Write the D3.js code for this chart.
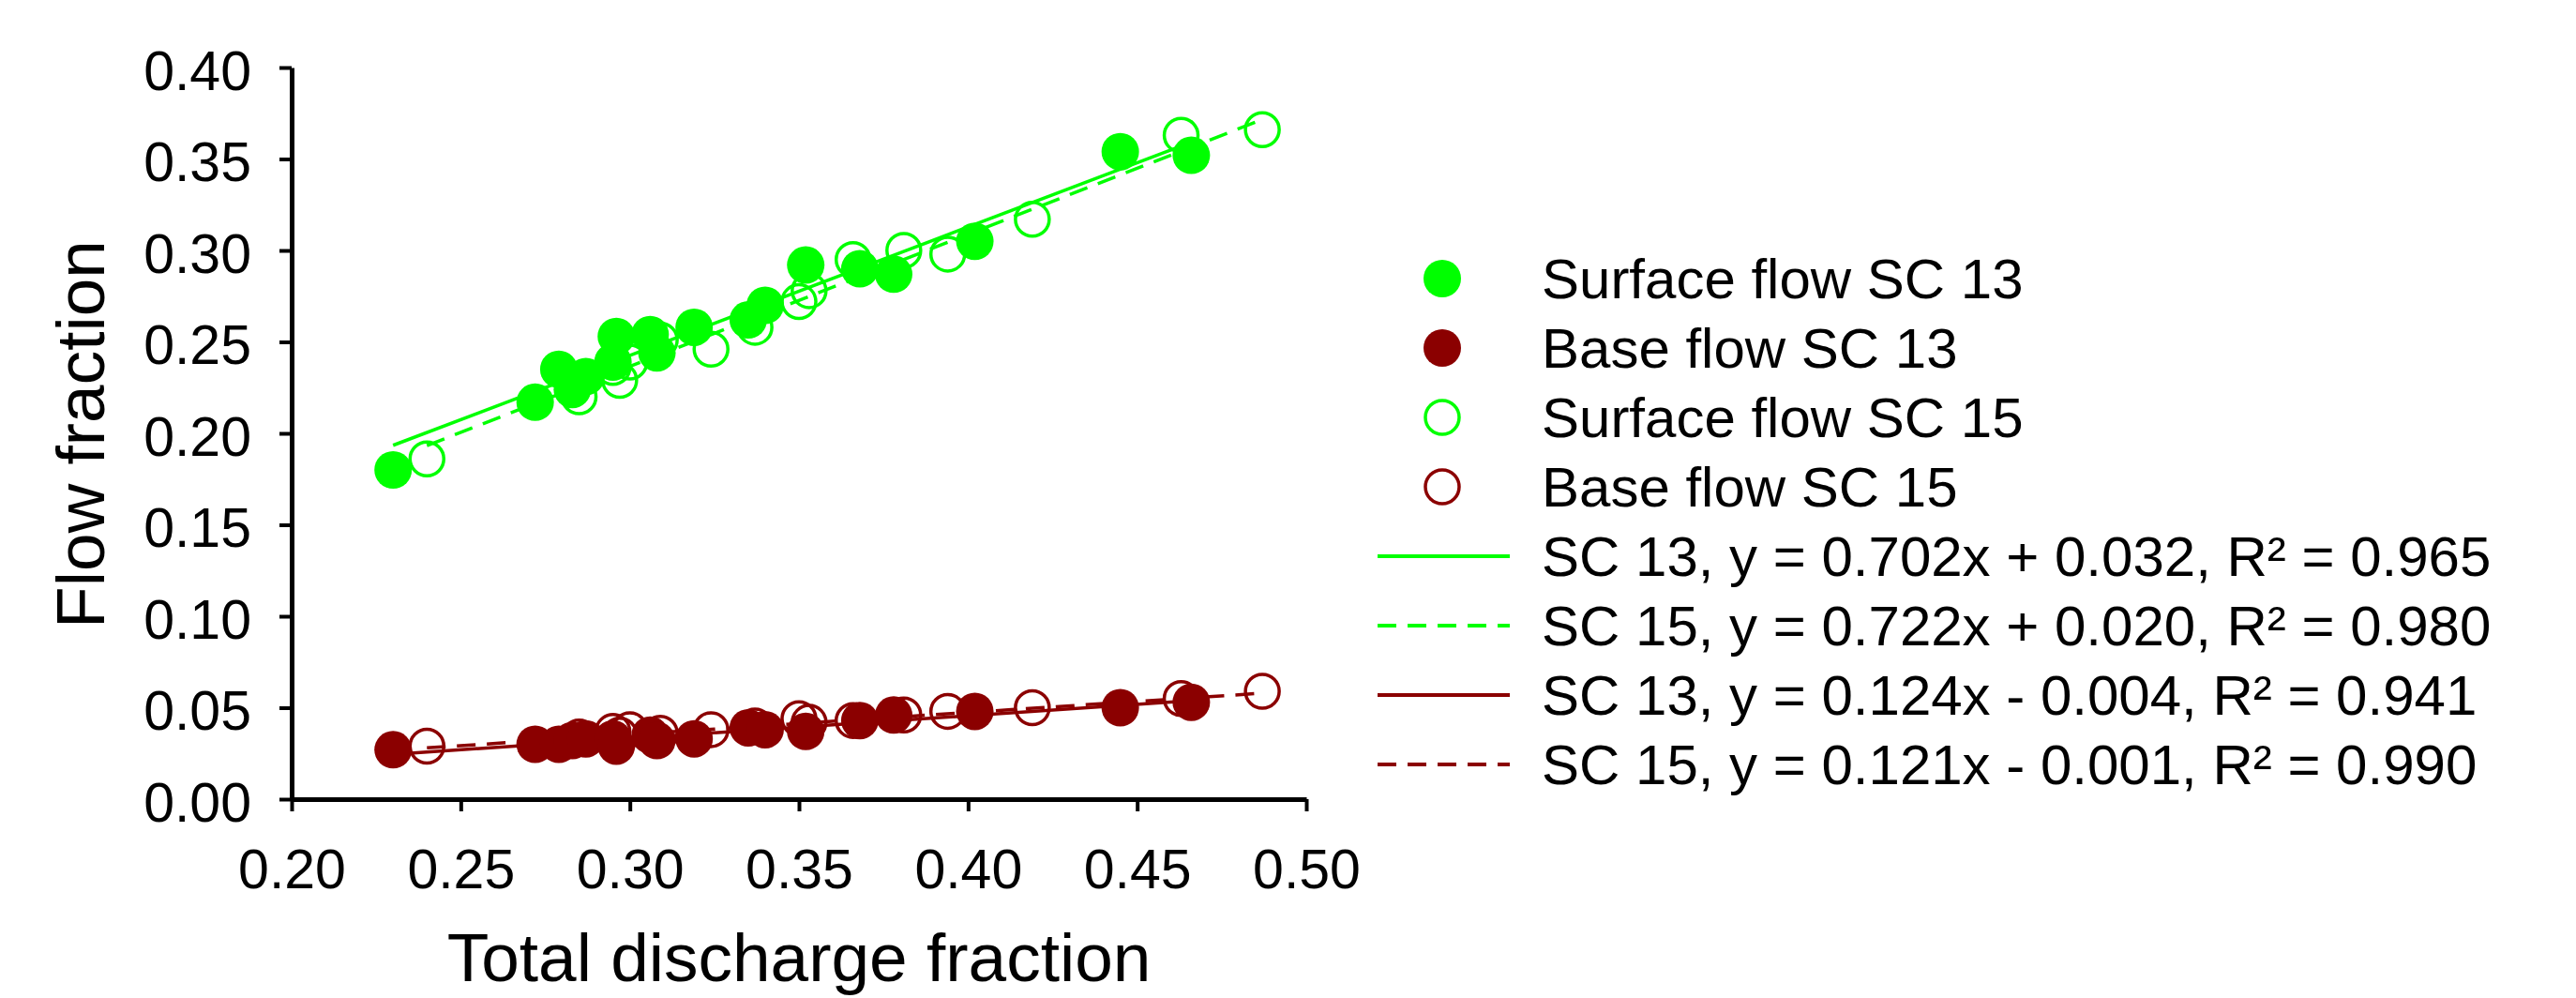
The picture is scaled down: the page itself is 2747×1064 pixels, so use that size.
<!DOCTYPE html>
<html>
<head>
<meta charset="utf-8">
<script src="https://cdn.jsdelivr.net/npm/d3@7/dist/d3.min.js"></script>
<style>
  html, body { margin: 0; padding: 0; background: #fff; }
  svg { display: block; font-family: "Liberation Sans", Arial, sans-serif; }
</style>
</head>
<body>
<svg id="chart" width="2747" height="1064"></svg>
<script>
// ---- Data ----
const surfaceSC13X = [0.230, 0.272, 0.279, 0.283, 0.287, 0.295, 0.296, 0.306, 0.308, 0.319, 0.335, 0.340, 0.352, 0.368, 0.378, 0.402, 0.445, 0.466];
const surfaceSC13Y = [0.180, 0.217, 0.235, 0.224, 0.231, 0.239, 0.253, 0.254, 0.244, 0.258, 0.262, 0.270, 0.292, 0.290, 0.287, 0.305, 0.354, 0.352];
const baseSC13Y    = [0.027, 0.030, 0.030, 0.032, 0.033, 0.033, 0.029, 0.035, 0.032, 0.033, 0.039, 0.038, 0.037, 0.043, 0.046, 0.048, 0.050, 0.053];

const surfaceSC15X = [0.240, 0.285, 0.295, 0.297, 0.300, 0.309, 0.324, 0.337, 0.350, 0.353, 0.366, 0.381, 0.394, 0.419, 0.463, 0.487];
const surfaceSC15Y = [0.186, 0.220, 0.236, 0.229, 0.239, 0.251, 0.246, 0.258, 0.272, 0.278, 0.295, 0.300, 0.298, 0.317, 0.363, 0.366];
const baseSC15Y    = [0.029, 0.034, 0.037, 0.035, 0.038, 0.036, 0.038, 0.040, 0.044, 0.042, 0.043, 0.046, 0.048, 0.050, 0.055, 0.059];

const fitSlopes     = [0.702, 0.722, 0.124, 0.121];
const fitIntercepts = [0.032, 0.020, -0.004, -0.001];

const legendLabels = [
  "Surface flow SC 13",
  "Base flow SC 13",
  "Surface flow SC 15",
  "Base flow SC 15",
  "SC 13, y = 0.702x + 0.032, R² = 0.965",
  "SC 15, y = 0.722x + 0.020, R² = 0.980",
  "SC 13, y = 0.124x - 0.004, R² = 0.941",
  "SC 15, y = 0.121x - 0.001, R² = 0.990"
];

const xTicks = [0.20, 0.25, 0.30, 0.35, 0.40, 0.45, 0.50];
const yTicks = [0.00, 0.05, 0.10, 0.15, 0.20, 0.25, 0.30, 0.35, 0.40];
const xTitle = "Total discharge fraction";
const yTitle = "Flow fraction";

// ---- Styles ----
const GREEN = "#00ff00";
const RED = "#8b0000";
const DASH = "20,12";

const svg = d3.select("#chart");
const x = d3.scaleLinear().domain([0.20, 0.50]).range([311, 1393]);
const y = d3.scaleLinear().domain([0.00, 0.40]).range([852, 72]);

// ---- Axes ----
const fmt = d3.format(".2f");
const yAxis = svg.append("g").attr("transform", `translate(${x(0.20)},0)`)
  .call(d3.axisLeft(y).tickValues(yTicks).tickFormat(fmt).tickSize(13).tickSizeOuter(0).tickPadding(30));
const xAxis = svg.append("g").attr("transform", `translate(0,${y(0)})`)
  .call(d3.axisBottom(x).tickValues(xTicks).tickFormat(fmt).tickSize(13).tickSizeOuter(0).tickPadding(40));

[xAxis, yAxis].forEach(g => {
  g.select(".domain").attr("stroke", "#000").attr("stroke-width", 5);
  g.selectAll(".tick line").attr("stroke", "#000").attr("stroke-width", 4);
  g.selectAll(".tick text").attr("fill", "#000").attr("font-size", 59)
    .attr("font-family", "'Liberation Sans', Arial, sans-serif");
});
yAxis.selectAll(".tick text").attr("dy", "0.39em");

svg.append("text")
  .attr("x", (x(0.20) + x(0.50)) / 2).attr("y", 1046)
  .attr("text-anchor", "middle").attr("font-size", 73).attr("fill", "#000")
  .text(xTitle);
svg.append("text")
  .attr("transform", `translate(111,${(y(0) + y(0.40)) / 2 + 1}) rotate(-90)`)
  .attr("text-anchor", "middle").attr("font-size", 73).attr("fill", "#000")
  .text(yTitle);

// ---- Regression lines ----
const fits = [
  { xs: surfaceSC13X, color: GREEN, dash: null },
  { xs: surfaceSC15X, color: GREEN, dash: DASH },
  { xs: surfaceSC13X, color: RED, dash: null },
  { xs: surfaceSC15X, color: RED, dash: DASH }
];
const line = d3.line().x(d => x(d[0])).y(d => y(d[1]));
fits.forEach((f, i) => {
  const ext = d3.extent(f.xs);
  const pts = ext.map(v => [v, fitSlopes[i] * v + fitIntercepts[i]]);
  svg.append("path").attr("d", line(pts))
    .attr("fill", "none").attr("stroke", f.color).attr("stroke-width", 3.5)
    .attr("stroke-dasharray", f.dash);
});

// ---- Points ----
const zip = (xs, ys) => xs.map((v, i) => [v, ys[i]]);
function openPoints(data, color) {
  svg.append("g").selectAll("circle").data(data).join("circle")
    .attr("cx", d => x(d[0])).attr("cy", d => y(d[1])).attr("r", 18)
    .attr("fill", "none").attr("stroke", color).attr("stroke-width", 3.5);
}
function filledPoints(data, color) {
  svg.append("g").selectAll("circle").data(data).join("circle")
    .attr("cx", d => x(d[0])).attr("cy", d => y(d[1])).attr("r", 20)
    .attr("fill", color);
}
openPoints(zip(surfaceSC15X, surfaceSC15Y), GREEN);
openPoints(zip(surfaceSC15X, baseSC15Y), RED);
filledPoints(zip(surfaceSC13X, surfaceSC13Y), GREEN);
filledPoints(zip(surfaceSC13X, baseSC13Y), RED);

// ---- Legend ----
const legendItems = [
  { type: "filled", color: GREEN },
  { type: "filled", color: RED },
  { type: "open", color: GREEN },
  { type: "open", color: RED },
  { type: "line", color: GREEN, dash: null },
  { type: "line", color: GREEN, dash: DASH },
  { type: "line", color: RED, dash: null },
  { type: "line", color: RED, dash: DASH }
];
const leg = svg.append("g");
legendItems.forEach((it, i) => {
  const cy = 297 + i * 74;
  if (it.type === "filled") {
    leg.append("circle").attr("cx", 1538).attr("cy", cy).attr("r", 20).attr("fill", it.color);
  } else if (it.type === "open") {
    leg.append("circle").attr("cx", 1538).attr("cy", cy).attr("r", 18)
      .attr("fill", "none").attr("stroke", it.color).attr("stroke-width", 3.5);
  } else {
    leg.append("line").attr("x1", 1469).attr("x2", 1610).attr("y1", cy).attr("y2", cy)
      .attr("stroke", it.color).attr("stroke-width", 4).attr("stroke-dasharray", it.dash);
  }
  leg.append("text").attr("x", 1644).attr("y", cy + 21)
    .attr("font-size", 60).attr("fill", "#000").text(legendLabels[i]);
});
</script>
</body>
</html>
